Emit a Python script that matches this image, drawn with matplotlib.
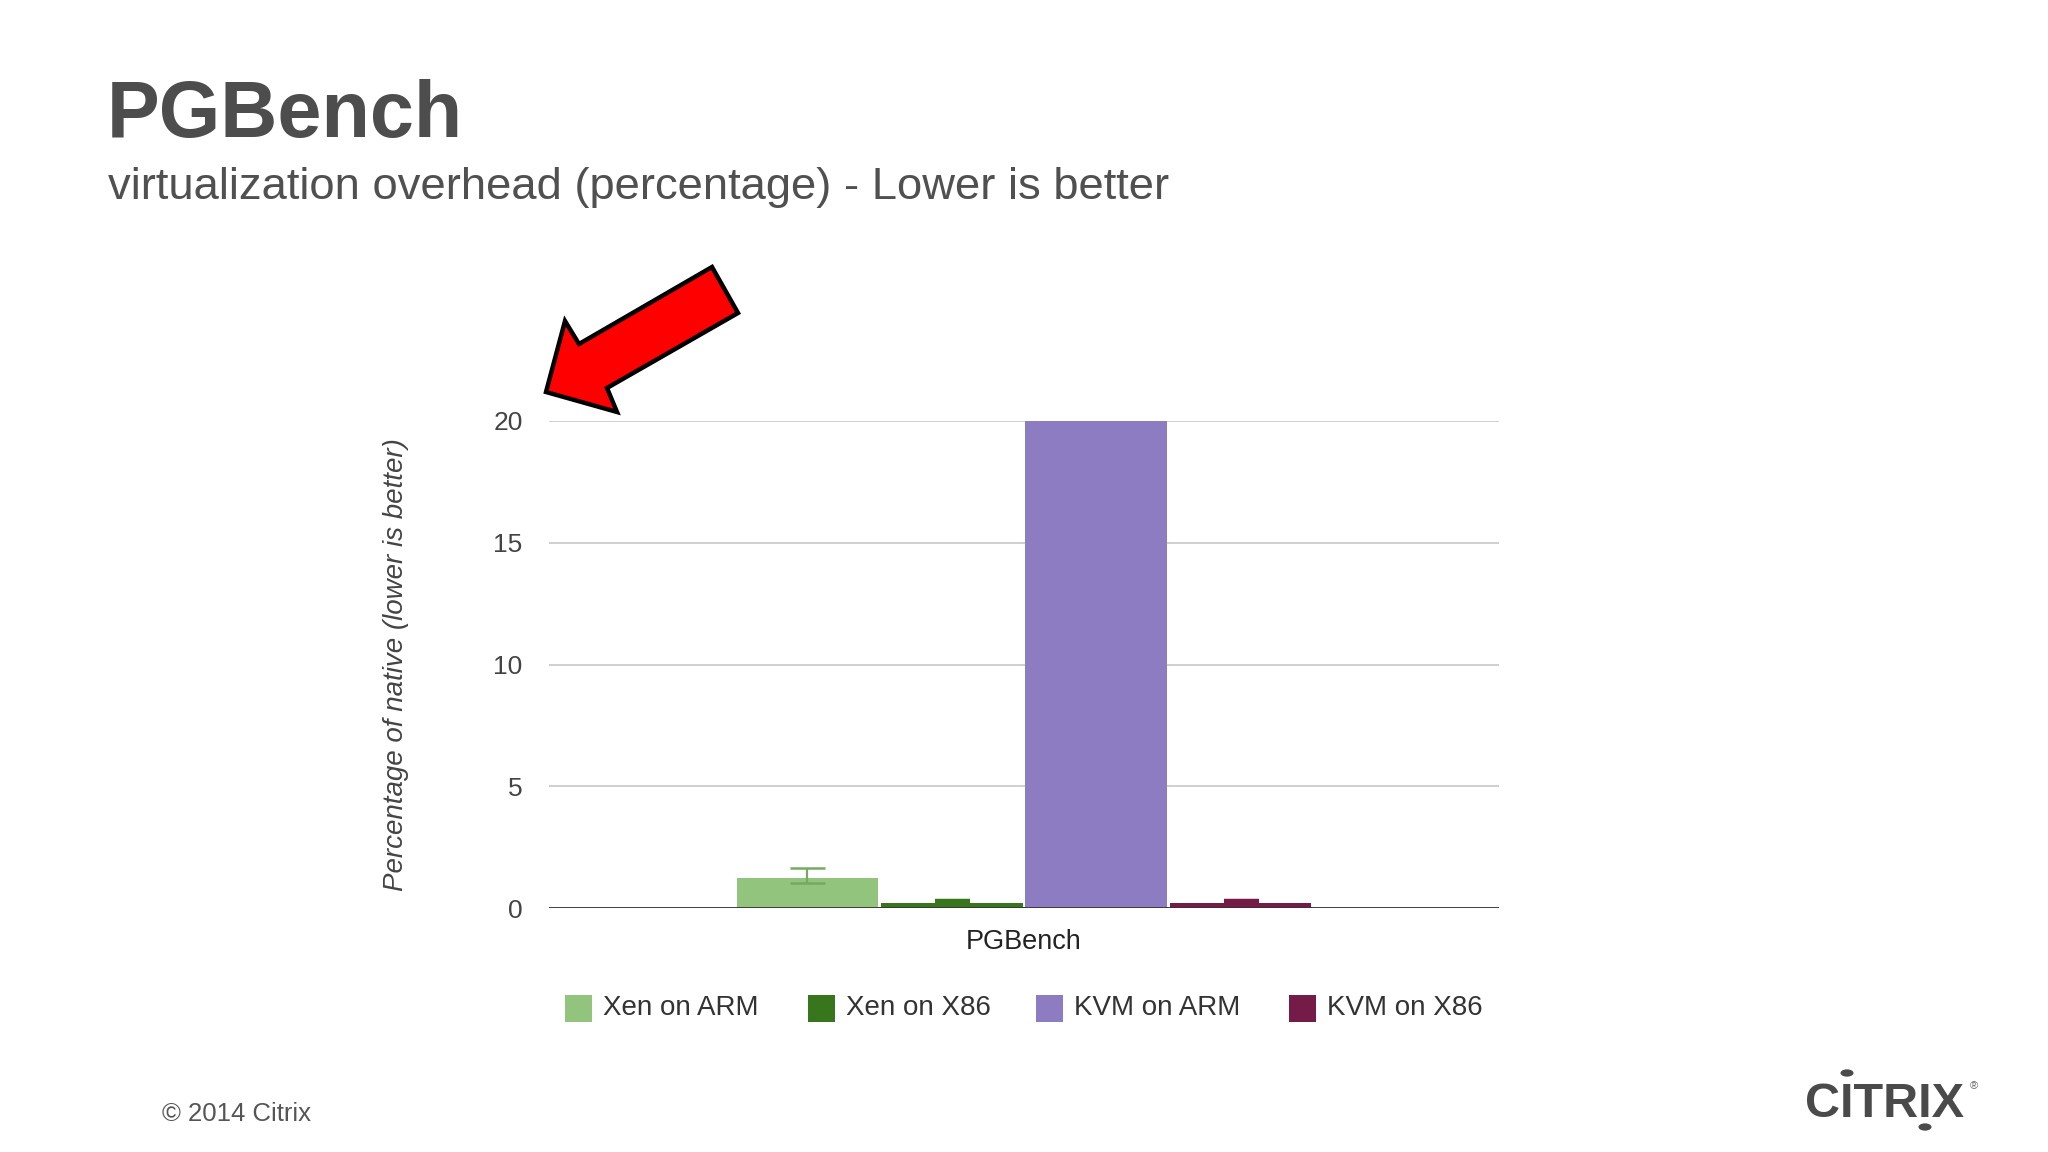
import matplotlib
matplotlib.use("Agg")
import matplotlib.pyplot as plt
from matplotlib.patches import Polygon, Rectangle, Circle

plt.rcParams['font.family'] = ['Liberation Sans', 'DejaVu Sans']

# ---- data ----
categories = ["PGBench"]
series_names = ["Xen on ARM", "Xen on X86", "KVM on ARM", "KVM on X86"]
series_values = [1.25, 0.22, 20.0, 0.22]
interval_low = [1.02, 0.12, 20.0, 0.12]
interval_high = [1.65, 0.30, 20.0, 0.30]
series_colors = ["#93c47d", "#38761d", "#8e7cc3", "#741b47"]
interval_colors = ["#77a964", "#38761d", "#8e7cc3", "#741b47"]
interval_cap_width = [1.8, 3.2, 1.8, 3.2]
y_ticks = [0, 5, 10, 15, 20]

W, H = 2048, 1152
fig = plt.figure(figsize=(W / 100, H / 100), dpi=100)
fig.patch.set_facecolor("white")


def px(x, y):
    return (x / W, 1 - y / H)


# axes
ax_l, ax_r, ax_t, ax_b = 549, 1499, 421, 908
ax = fig.add_axes([ax_l / W, 1 - ax_b / H, (ax_r - ax_l) / W, (ax_b - ax_t) / H])
ax.set_xlim(-0.5, 0.5)
ax.set_ylim(0, 20)

slot = 0.152
bw = 0.149
n = len(series_names)
for i, (name, v, lo, hi, c, ec, ct) in enumerate(zip(series_names, series_values, interval_low,
                                                      interval_high, series_colors,
                                                      interval_colors, interval_cap_width)):
    x = (i - (n - 1) / 2) * slot
    ax.bar(x, v, width=bw, color=c, zorder=3, linewidth=0)
    if hi > v or lo < v:
        ax.errorbar(x, v, yerr=[[v - lo], [hi - v]], fmt='none', ecolor=ec,
                    elinewidth=1.6, capsize=12.6, capthick=ct, zorder=4)

ax.set_yticks(y_ticks)
ax.set_yticklabels([str(t) for t in y_ticks])
ax.yaxis.grid(True, color="#cccccc", linewidth=1.3, zorder=0)
ax.set_axisbelow(True)
for s in ax.spines.values():
    s.set_visible(False)
ax.axhline(0, color="#333333", linewidth=2.0, zorder=5)
ax.tick_params(axis='y', length=0, pad=19, labelsize=19, labelcolor="#444444")
ax.set_xticks([0])
ax.set_xticklabels(categories)
ax.tick_params(axis='x', length=0, pad=15, labelsize=19.5, labelcolor="#222222")
ax.set_ylabel("Percentage of native (lower is better)", fontsize=20, style="italic",
              color="#444444", va="center")
ax.yaxis.set_label_coords((396 - ax_l) / (ax_r - ax_l), 0.5)

# legend (manual)
leg_sq = [565, 808, 1036, 1289]
leg_y = 1008
sq = 27
for name, c, lx in zip(series_names, series_colors, leg_sq):
    fig.add_artist(Rectangle(px(lx, leg_y + sq / 2), sq / W, sq / H,
                             transform=fig.transFigure, facecolor=c, edgecolor="none"))
    fig.text(*px(lx + 38, leg_y), name, fontsize=20, color="#333333",
             ha="left", va="center")

# titles
fig.text(*px(107, 137), "PGBench", fontsize=57, fontweight="bold", color="#4d4d4d",
         ha="left", va="baseline")
fig.text(*px(108, 199), "virtualization overhead (percentage) - Lower is better",
         fontsize=32.7, color="#505050", ha="left", va="baseline")

# red arrow annotation
arrow_pts = [(546, 392), (565, 321), (579, 344), (712, 267), (738, 313),
             (607, 388), (617, 412)]
fig.add_artist(Polygon([px(x, y) for x, y in arrow_pts], closed=True,
                       transform=fig.transFigure, facecolor="#ff0000",
                       edgecolor="black", linewidth=3.2, joinstyle="miter"))

# footer
fig.text(*px(162, 1114), "\u00a9 2014 Citrix", fontsize=18.5, color="#555555",
         ha="left", va="center")

# logo
fig.text(*px(1805, 1117), "CITRIX", fontsize=35, fontweight="bold", color="#4a4a4a",
         ha="left", va="baseline")
fig.add_artist(Circle(px(1847, 1073), 6.5 / W, transform=fig.transFigure,
                      facecolor="#4a4a4a", edgecolor="none"))
fig.add_artist(Circle(px(1925, 1127), 6.5 / W, transform=fig.transFigure,
                      facecolor="#4a4a4a", edgecolor="none"))
fig.text(*px(1970, 1086), "\u00ae", fontsize=8, color="#666666", ha="left", va="center")

fig.savefig("out.png", dpi=100, facecolor="white")
